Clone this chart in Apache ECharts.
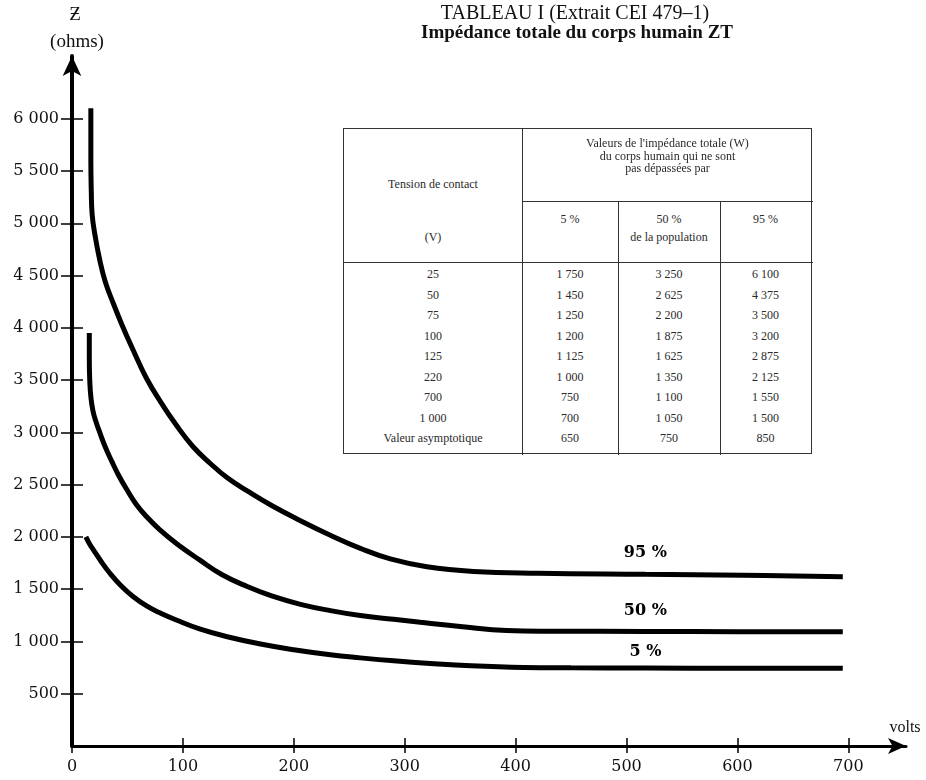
<!DOCTYPE html>
<html>
<head>
<meta charset="utf-8">
<script src="https://cdn.jsdelivr.net/npm/echarts@6/dist/echarts.min.js"></script>
<style>
  body { margin: 0; background: #fff; }
  #chart { position: absolute; left: 0; top: 0; width: 926px; height: 780px; }
  #tbl { position: absolute; left: 343px; top: 128px; width: 469px; height: 326px;
         border: 1px solid #333; box-sizing: border-box; background: #fff;
         font: 12px 'Liberation Serif', serif; color: #2a2a2a; }
  #tbl .ln { position: absolute; background: #333; }
  #tbl .tx { position: absolute; text-align: center; line-height: 12px; white-space: nowrap; }
</style>
</head>
<body>
<div id="chart"></div>
<div id="tbl"></div>
<script>
// axes
const voltTicks = [0, 100, 200, 300, 400, 500, 600, 700];
const ohmTicks = [500, 1000, 1500, 2000, 2500, 3000, 3500, 4000, 4500, 5000, 5500, 6000];

// courbes [volts, ohms]
const curve95 = [[17, 6100], [17, 5600], [17.4, 5300], [18.2, 5080], [21, 4870], [25, 4650],
  [30, 4440], [37, 4240], [45, 4030], [55, 3790], [67, 3520], [80, 3290], [94, 3070], [109, 2865],
  [125, 2700], [140, 2565], [158, 2440], [180, 2300], [206, 2155], [232, 2020], [260, 1890],
  [287, 1790], [320, 1715], [362, 1670], [420, 1652], [517, 1642], [605, 1634], [695, 1620]];
const curve50 = [[15.6, 3950], [15.6, 3700], [16, 3500], [17, 3340], [19, 3200], [22, 3090],
  [25, 3000], [30, 2860], [36, 2720], [42, 2590], [49, 2460], [58, 2310], [68, 2185], [79, 2070],
  [95, 1930], [115, 1780], [135, 1640], [158, 1525], [180, 1435], [206, 1355], [233, 1295],
  [260, 1248], [290, 1212], [314, 1183], [350, 1143], [392, 1104], [430, 1098], [517, 1096],
  [600, 1094], [695, 1092]];
const curve5 = [[12.5, 2000], [16, 1930], [20, 1865], [26, 1770], [34, 1655], [44, 1535],
  [55, 1430], [68, 1335], [80, 1270], [94, 1205], [115, 1120], [140, 1045], [170, 975],
  [200, 920], [233, 872], [260, 843], [290, 815], [323, 790], [360, 768], [407, 752],
  [450, 748], [517, 746], [600, 744], [695, 743]];
const curveNames = ['95 %', '50 %', '5 %'];
const labelVolt = 517;

// tableau
const tensions = ['25', '50', '75', '100', '125', '220', '700', '1 000', 'Valeur asymptotique'];
const z5 = ['1 750', '1 450', '1 250', '1 200', '1 125', '1 000', '750', '700', '650'];
const z50 = ['3 250', '2 625', '2 200', '1 875', '1 625', '1 350', '1 100', '1 050', '750'];
const z95 = ['6 100', '4 375', '3 500', '3 200', '2 875', '2 125', '1 550', '1 500', '850'];

// --- tableau en HTML ---
const tbl = document.getElementById('tbl');
const cols = [[0, 178], [178, 96], [274, 102], [376, 91]];
function line(x, y, w, h) {
  const d = document.createElement('div');
  d.className = 'ln';
  d.style.cssText = `left:${x}px;top:${y}px;width:${w}px;height:${h}px`;
  tbl.appendChild(d);
}
function text(col, cy, s, left, width) {
  const d = document.createElement('div');
  d.className = 'tx';
  const l = left !== undefined ? left : cols[col][0];
  const w = width !== undefined ? width : cols[col][1];
  d.style.cssText = `left:${l}px;width:${w}px;top:${cy - 6}px`;
  d.textContent = s;
  tbl.appendChild(d);
}
line(178, 0, 1, 326);
line(274, 72, 1, 254);
line(376, 72, 1, 254);
line(178, 72, 291, 1);
line(0, 133, 469, 1);
text(0, 55, 'Tension de contact');
text(0, 108, '(V)');
text(0, 14, "Valeurs de l'impédance totale (W)", 178, 291);
text(0, 27, 'du corps humain qui ne sont', 178, 291);
text(0, 39, 'pas dépassées par', 178, 291);
text(1, 90, '5 %');
text(2, 90, '50 %');
text(3, 90, '95 %');
text(2, 108, 'de la population');
tensions.forEach((t, i) => {
  const cy = 145 + i * 20.5;
  text(0, cy, t);
  text(1, cy, z5[i]);
  text(2, cy, z50[i]);
  text(3, cy, z95[i]);
});

// --- graphique ---
const chart = echarts.init(document.getElementById('chart'));
const serif = "'DejaVu Serif', serif";
const fmt = v => String(v).replace(/\B(?=(\d{3})+$)/g, ' ');
const labelGap = [13, 13, 8];

function withLabel(data, name, gap) {
  return data.map(p => p[0] === labelVolt
    ? { value: p, label: { show: true, formatter: name, position: 'top', distance: gap,
        fontFamily: serif, fontWeight: 'bold', fontSize: 16, color: '#000' } }
    : p);
}

const gridBox = { left: 72, top: 56, width: 834, height: 690 };

function txt(x, y, s, font) {
  return { type: 'text', x: x, y: y,
    style: { text: s, font: font, fill: '#111', align: 'center', verticalAlign: 'middle' } };
}

const option = {
  animation: false,
  backgroundColor: '#fff',
  grid: [Object.assign({}, gridBox), Object.assign({}, gridBox)],
  graphic: [
    txt(575, 14, 'TABLEAU I (Extrait CEI 479–1)', "20px 'Liberation Serif'"),
    txt(577, 33, 'Impédance totale du corps humain ZT', "bold 19px 'Liberation Serif'"),
    txt(75, 15, 'Ƶ', "19px 'Liberation Serif'"),
    txt(77, 42, '(ohms)', "19px 'Liberation Serif'"),
    txt(905, 728, 'volts', "16px 'Liberation Serif'")
  ],
  xAxis: [
    { type: 'value', gridIndex: 0, min: 0, max: 752,
      axisLine: { lineStyle: { color: '#000', width: 3 }, symbol: ['none', 'arrow'], symbolSize: [12, 18] },
      axisTick: { show: true, customValues: voltTicks, length: 7, lineStyle: { color: '#000', width: 1.5 } },
      axisLabel: { customValues: voltTicks, margin: 13, fontFamily: serif, fontSize: 16, color: '#111' },
      splitLine: { show: false } },
    { type: 'value', gridIndex: 1, min: 0, max: 752,
      axisLine: { show: false },
      axisTick: { show: true, inside: true, customValues: voltTicks, length: 8, lineStyle: { color: '#000', width: 1.5 } },
      axisLabel: { show: false }, splitLine: { show: false } }
  ],
  yAxis: [
    { type: 'value', gridIndex: 0, min: 0, max: 6600,
      axisLine: { show: true, lineStyle: { color: '#000', width: 4 }, symbol: ['none', 'arrow'], symbolSize: [14, 20] },
      axisTick: { show: true, customValues: ohmTicks, length: 11, lineStyle: { color: '#000', width: 1.5 } },
      axisLabel: { customValues: ohmTicks, formatter: fmt, margin: 13, fontFamily: serif, fontSize: 16, color: '#111' },
      splitLine: { show: false } },
    { type: 'value', gridIndex: 1, min: 0, max: 6600,
      axisLine: { show: false },
      axisTick: { show: true, inside: true, customValues: ohmTicks, length: 11, lineStyle: { color: '#000', width: 1.5 } },
      axisLabel: { show: false }, splitLine: { show: false } }
  ],
  series: [curve95, curve50, curve5].map((d, i) => ({
    name: curveNames[i],
    type: 'line',
    xAxisIndex: 0,
    yAxisIndex: 0,
    smooth: 0.45,
    symbol: 'circle',
    symbolSize: 0,
    showSymbol: true,
    lineStyle: { color: '#000', width: 5 },
    itemStyle: { color: '#000' },
    data: withLabel(d, curveNames[i], labelGap[i])
  }))
};
chart.setOption(option);
</script>
</body>
</html>
